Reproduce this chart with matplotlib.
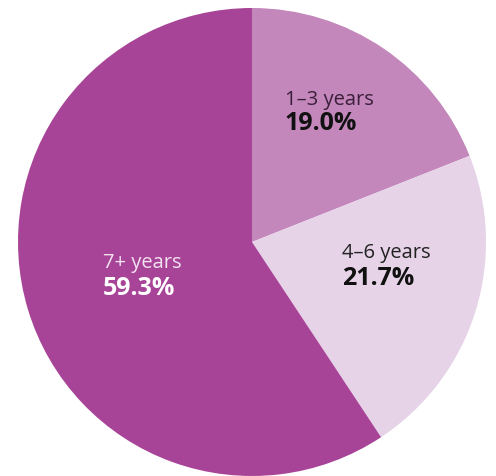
import matplotlib
matplotlib.use("Agg")
import matplotlib.pyplot as plt

categories = ["1–3 years", "4–6 years", "7+ years"]
values = [19.0, 21.7, 59.3]
colors = ["#c387bb", "#e6d3e8", "#a84497"]

plt.rcParams['font.family'] = ['Open Sans', 'DejaVu Sans']

fig = plt.figure(figsize=(4.96, 4.77), dpi=100)
ax = fig.add_axes([(252 - 234) / 496, (234 - 234) / 477, 468 / 496, 468 / 477])
ax.pie(values, colors=colors, startangle=90, counterclock=False, radius=1,
       wedgeprops=dict(linewidth=0))
ax.set_xlim(-1, 1)
ax.set_ylim(-1, 1)
ax.set_aspect('equal')
ax.axis('off')

label_pos = [(0.141, 0.59, 0.483), (0.385, -0.064, -0.18), (-0.637, -0.107, -0.222)]
label_colors = ["#3b1f3a", "#222222", "#f3e3f1"]
pct_colors = ["#111111", "#111111", "#ffffff"]
for cat, val, (x, y1, y2), lc, pc in zip(categories, values, label_pos, label_colors, pct_colors):
    ax.text(x, y1, cat, ha='left', va='baseline', fontsize=14.5, color=lc)
    ax.text(x, y2, f"{val:.1f}%", ha='left', va='baseline', fontsize=18,
            fontweight='bold', color=pc)

fig.savefig("out.png", dpi=100)
